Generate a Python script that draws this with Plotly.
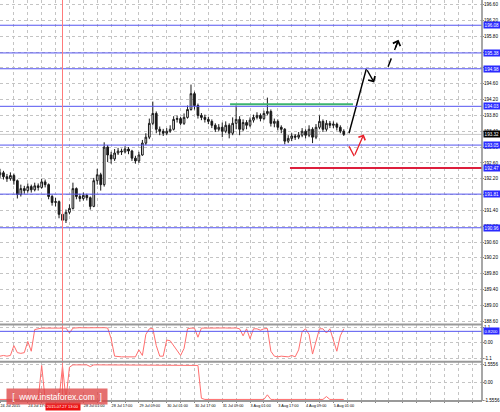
import plotly.graph_objects as go

# ---------------- data (2-hour bars, x = trading-hour index from 24 Jul 01:00) ----------------
bar_index = [0, 2, 4, 6, 8, 10, 12, 14, 16, 18, 20, 22, 24, 26, 28, 30, 32, 34, 36, 38,
             40, 42, 44, 46, 48, 50, 52, 54, 56, 58, 60, 62, 64, 66, 68, 70, 72, 74, 76, 78,
             80, 82, 84, 86, 88, 90, 92, 94, 96, 98, 100, 102, 104, 106, 108, 110, 112, 114, 116, 118,
             120, 122, 124, 126, 128, 130, 132, 134, 136, 138, 140, 142, 144, 146, 148, 150, 152, 154, 156, 158,
             160, 162, 164, 166, 168, 170, 172, 174, 176, 178, 180, 182, 184, 186, 188, 190, 192, 194, 196, 198]

opens = [192.30, 192.35, 192.25, 192.20, 192.28, 192.15, 191.80, 191.95, 191.90, 192.00,
         191.92, 192.02, 191.98, 192.12, 192.05, 191.75, 191.60, 191.62, 191.30, 191.15,
         191.35, 191.45, 191.95, 191.75, 191.70, 191.78, 191.72, 191.50, 192.15, 192.30,
         192.05, 193.00, 192.80, 192.70, 192.85, 192.90, 192.88, 192.95, 192.90, 192.72,
         192.65, 192.80, 193.10, 193.25, 193.60, 193.85, 193.45, 193.40, 193.35, 193.40,
         193.45, 193.70, 193.72, 193.60, 193.75, 193.95, 194.35, 194.05, 193.80, 193.75,
         193.70, 193.65, 193.55, 193.45, 193.50, 193.40, 193.55, 193.35, 193.60, 193.70,
         193.45, 193.62, 193.55, 193.68, 193.75, 193.80, 193.72, 193.85, 193.90, 193.60,
         193.65, 193.50, 193.45, 193.15, 193.22, 193.28, 193.25, 193.30, 193.40, 193.30,
         193.45, 193.25, 193.50, 193.65, 193.45, 193.60, 193.55, 193.58, 193.50, 193.40]

highs = [192.45, 192.40, 192.32, 192.36, 192.33, 192.18, 192.05, 192.02, 192.08, 192.05,
         192.10, 192.08, 192.20, 192.18, 192.08, 191.80, 191.72, 191.65, 191.38, 191.42,
         191.55, 192.10, 191.98, 191.82, 191.85, 191.82, 191.75, 192.22, 192.45, 192.35,
         193.12, 193.05, 192.88, 192.95, 192.98, 192.96, 193.02, 193.00, 192.93, 192.78,
         192.88, 193.18, 193.35, 193.72, 194.15, 193.90, 193.52, 193.46, 193.48, 193.55,
         193.78, 193.80, 193.76, 193.85, 194.05, 194.58, 194.40, 194.10, 193.86, 193.82,
         193.76, 193.70, 193.60, 193.58, 193.62, 193.65, 193.60, 193.75, 194.05, 193.78,
         193.70, 193.68, 193.75, 193.82, 193.88, 193.85, 193.92, 194.25, 193.95, 193.72,
         193.70, 193.55, 193.48, 193.30, 193.35, 193.33, 193.38, 193.48, 193.45, 193.55,
         193.50, 193.58, 193.80, 193.70, 193.68, 193.66, 193.65, 193.62, 193.55, 193.45]

lows = [192.22, 192.18, 192.12, 192.15, 192.05, 191.70, 191.75, 191.82, 191.85, 191.85,
        191.88, 191.90, 191.95, 191.98, 191.68, 191.52, 191.50, 191.20, 191.00, 191.08,
        191.30, 191.42, 191.68, 191.62, 191.65, 191.65, 191.42, 191.48, 192.05, 191.90,
        192.00, 192.62, 192.58, 192.65, 192.80, 192.80, 192.84, 192.82, 192.65, 192.58,
        192.60, 192.78, 193.05, 193.20, 193.55, 193.35, 193.30, 193.28, 193.30, 193.36,
        193.42, 193.62, 193.55, 193.56, 193.72, 193.92, 193.95, 193.72, 193.68, 193.62,
        193.58, 193.48, 193.38, 193.40, 193.25, 193.35, 193.22, 193.30, 193.45, 193.30,
        193.40, 193.45, 193.50, 193.62, 193.70, 193.65, 193.68, 193.80, 193.52, 193.50,
        193.42, 193.35, 193.07, 193.10, 193.15, 193.18, 193.20, 193.25, 193.22, 193.25,
        193.10, 193.20, 193.45, 193.38, 193.40, 193.48, 193.48, 193.42, 193.35, 193.28]

closes = [192.35, 192.25, 192.20, 192.28, 192.15, 191.80, 191.95, 191.90, 192.00, 191.92,
          192.02, 191.98, 192.12, 192.05, 191.75, 191.60, 191.62, 191.30, 191.15, 191.35,
          191.45, 191.95, 191.75, 191.70, 191.78, 191.72, 191.50, 192.15, 192.30, 192.05,
          193.00, 192.80, 192.70, 192.85, 192.90, 192.88, 192.95, 192.90, 192.72, 192.65,
          192.80, 193.10, 193.25, 193.60, 193.85, 193.45, 193.40, 193.35, 193.40, 193.45,
          193.70, 193.72, 193.60, 193.75, 193.95, 194.35, 194.05, 193.80, 193.75, 193.70,
          193.65, 193.55, 193.45, 193.50, 193.40, 193.55, 193.35, 193.60, 193.70, 193.45,
          193.62, 193.55, 193.68, 193.75, 193.80, 193.72, 193.85, 193.90, 193.60, 193.65,
          193.50, 193.45, 193.15, 193.22, 193.28, 193.25, 193.30, 193.40, 193.30, 193.45,
          193.25, 193.50, 193.65, 193.45, 193.60, 193.55, 193.58, 193.50, 193.40, 193.32]

osc1 = [-0.95, -0.9, -0.95, -0.9, -0.2, -0.7, -0.75, -0.7, 0.1, -0.6,
        0.95, 1.02, 1.05, 1.05, 1.04, 1.05, 1.05, 1.04, 1.05, 1.05,
        0.7, 1.05, 1.08, 1.08, 1.07, 1.08, 1.08, 1.07, 1.08, 1.08,
        1.08, 1.06, 0.3, -0.95, -1.0, -1.0, -1.0, -0.98, -1.0, -1.0,
        -0.5, -0.9, 0.6, 1.0, 1.02, -0.2, -0.95, -0.95, 0.2, 0.15,
        -0.2, -0.6, -0.9, -0.4, 1.0, 1.05, 1.05, 0.4, 1.05, 1.05,
        1.06, 1.05, 1.06, 1.05, 1.05, 1.06, 1.05, 1.05, 1.06, 1.0,
        0.5, 1.0, 0.3, 1.0, 1.0, 0.9, 1.0, 1.02, -0.6, -0.95,
        -1.0, -0.95, -1.0, -1.0, -0.9, -1.0, -0.5, 0.8, 1.0, 0.6,
        -0.8, 0.2, 1.0, 1.0, 0.7, 1.0, 0.2, -0.6, 0.5, 1.0]

osc2 = [-1.5, -1.5, -1.5, -1.5, -1.5, -1.5, -1.5, -1.5, -1.5, -1.5,
        -1.5, -1.5, 1.45, -1.5, -1.5, -1.5, -1.5, -1.5, 1.4, -1.5,
        1.3, 1.5, 1.5, 1.5, 1.5, 1.5, 1.35, 1.5, 1.5, 1.5,
        1.5, 1.5, 1.5, 1.5, 1.5, 1.5, 1.5, 1.5, 1.5, 1.5,
        1.5, 1.5, 1.5, 1.5, 1.5, 1.5, 1.5, 1.5, 1.5, 1.5,
        1.5, 1.5, 1.5, 1.5, 1.5, 1.5, 1.5, 1.45, -1.4, -1.5,
        -1.5, -1.5, -1.5, -1.5, -1.5, -1.5, -1.5, -1.5, -1.5, -1.5,
        -1.5, -1.5, -1.5, -1.5, -1.5, -1.5, -1.5, -1.1, -1.5, -1.5,
        -1.5, -1.5, -1.5, -1.5, -1.5, -1.5, -1.5, -1.5, -1.5, -1.5,
        -1.5, -1.5, -1.5, -1.5, -1.25, -1.5, -1.5, -1.5, -1.5, -1.5]

tick_bars = [0, 8, 16, 24, 32, 40, 48, 56, 64, 72, 80, 88, 96, 104, 112, 120, 128, 136,
             144, 152, 160, 168, 176, 184, 192, 200, 208, 216, 224, 232, 240, 248, 256, 264, 272]
# the 27 Jul 09:00 label sits under the red cursor-time box in the original, so it is left blank
tick_labels = ["24 Jul 2015", "", "24 Jul 17:00", "", "", "", "28 Jul 01:00", "",
               "28 Jul 17:00", "", "29 Jul 09:00", "", "30 Jul 01:00", "", "30 Jul 17:00", "",
               "31 Jul 09:00", "", "3 Aug 01:00", "", "3 Aug 17:00", "", "4 Aug 09:00", "",
               "5 Aug 01:00", "", "", "", "", "", "", "", "", "", ""]

level_prices = [196.08, 195.38, 194.98, 194.03, 193.05, 191.81, 190.96]
support_price = 192.47
support_start_bar = 167
resistance_price = 194.08
resistance_bars = [132.5, 203.3]
marker_bar = 36
marker_label = "2015.07.27 13:00"
osc1_level = 0.82

up_path_bars = [201, 211, 215.5]
up_path_prices = [193.35, 194.98, 194.63]
dash_path_bars = [223.5, 229.5]
dash_path_prices = [195.03, 195.71]
red_path_bars = [201, 204, 209.5]
red_path_prices = [193.02, 192.77, 193.32]

# ---------------- figure ----------------
X_END = 0.964
D_MAIN = [0.2087, 1.0]
D_P1 = [0.1189, 0.2063]
D_P2 = [0.0218, 0.1165]
GRID = "#c4c4c4"
FONT = "Liberation Sans"
BLUE = "#5555f0"
PINK = "#ff6e6e"

fig = go.Figure()

fig.add_trace(go.Candlestick(
    x=bar_index, open=opens, high=highs, low=lows, close=closes,
    increasing=dict(line=dict(color="#1a1a1a", width=1), fillcolor="#ffffff"),
    decreasing=dict(line=dict(color="#1a1a1a", width=1), fillcolor="#1a1a1a"),
    whiskerwidth=0, xaxis="x", yaxis="y", hoverinfo="skip"))

fig.add_trace(go.Scatter(x=bar_index, y=osc1, mode="lines",
                         line=dict(color=PINK, width=1), xaxis="x", yaxis="y2", hoverinfo="skip"))
fig.add_trace(go.Scatter(x=bar_index, y=osc2, mode="lines",
                         line=dict(color=PINK, width=1), xaxis="x", yaxis="y3", hoverinfo="skip"))

fig.add_trace(go.Scatter(x=up_path_bars[:2], y=up_path_prices[:2], mode="lines",
                         line=dict(color="black", width=1.4), hoverinfo="skip"))
fig.add_trace(go.Scatter(x=dash_path_bars, y=dash_path_prices, mode="lines",
                         line=dict(color="black", width=1.4, dash="dash"), hoverinfo="skip"))
fig.add_trace(go.Scatter(x=red_path_bars[:2], y=red_path_prices[:2], mode="lines",
                         line=dict(color="#e8202a", width=1.3), hoverinfo="skip"))

shapes = []
shapes.append(dict(type="line", xref="paper", yref="y", x0=0, x1=X_END,
                   y0=closes[-1], y1=closes[-1], line=dict(color="#c8c8c8", width=1), layer="below"))
for p in level_prices:
    shapes.append(dict(type="line", xref="paper", yref="y", x0=0, x1=X_END, y0=p, y1=p,
                       line=dict(color=BLUE, width=1)))
shapes.append(dict(type="line", xref="x", yref="y", x0=support_start_bar, x1=278,
                   y0=support_price, y1=support_price, line=dict(color="#dc1e3c", width=2)))
shapes.append(dict(type="line", xref="x", yref="y", x0=resistance_bars[0], x1=resistance_bars[1],
                   y0=resistance_price, y1=resistance_price, line=dict(color="#3cb46e", width=2)))
shapes.append(dict(type="line", xref="paper", yref="y2", x0=0, x1=X_END, y0=osc1_level, y1=osc1_level,
                   line=dict(color=BLUE, width=1)))
shapes.append(dict(type="line", xref="x", yref="paper", x0=marker_bar, x1=marker_bar,
                   y0=D_P2[0], y1=1, line=dict(color="#ff7a7a", width=1)))
for yy in [0.2087, 0.1177, 0.0218]:
    shapes.append(dict(type="line", xref="paper", yref="paper", x0=0, x1=X_END, y0=yy, y1=yy,
                       line=dict(color="#999999", width=2)))
shapes.append(dict(type="line", xref="paper", yref="paper", x0=X_END, x1=X_END, y0=D_P2[0], y1=1,
                   line=dict(color="#8a8a8a", width=1.5)))

annotations = []
lab_font = dict(size=4.6, color="white", family=FONT)
for p in level_prices + [support_price]:
    annotations.append(dict(xref="paper", yref="y", x=X_END + 0.002, y=p, xanchor="left",
                            text=f"{p:.2f}", showarrow=False, bgcolor="#2a2aff",
                            font=lab_font, borderpad=0.6))
annotations.append(dict(xref="paper", yref="y", x=X_END + 0.002, y=closes[-1], xanchor="left",
                        text=f"{closes[-1]:.2f}", showarrow=False, bgcolor="#000000",
                        font=lab_font, borderpad=0.6))
annotations.append(dict(xref="paper", yref="y2", x=X_END + 0.002, y=osc1_level, xanchor="left",
                        text=f"{osc1_level:.4f}", showarrow=False, bgcolor="#2a2aff",
                        font=dict(size=4.2, color="white", family=FONT), borderpad=0.6))
annotations.append(dict(xref="x", yref="paper", x=marker_bar, y=0.0095, xanchor="center",
                        yanchor="middle", text=marker_label, showarrow=False, bgcolor="#ee1111",
                        font=dict(size=4, color="white", family=FONT), borderpad=0.8))
annotations.append(dict(xref="x", yref="y", axref="x", ayref="y",
                        x=up_path_bars[2], y=up_path_prices[2], ax=up_path_bars[1], ay=up_path_prices[1],
                        text="", showarrow=True, arrowhead=4, arrowsize=1.1, arrowwidth=1.4,
                        arrowcolor="black"))
annotations.append(dict(xref="x", yref="y", axref="x", ayref="y",
                        x=dash_path_bars[1], y=dash_path_prices[1], ax=227.5, ay=195.48,
                        text="", showarrow=True, arrowhead=4, arrowsize=1.1, arrowwidth=1.4,
                        arrowcolor="black"))
annotations.append(dict(xref="x", yref="y", axref="x", ayref="y",
                        x=red_path_bars[2], y=red_path_prices[2], ax=red_path_bars[1], ay=red_path_prices[1],
                        text="", showarrow=True, arrowhead=4, arrowsize=1.1, arrowwidth=1.3,
                        arrowcolor="#e8202a"))
annotations.append(dict(xref="paper", yref="paper", x=0.114, y=0.034, xanchor="center", yanchor="middle",
                        text="[  www.instaforex.com  ]", showarrow=False,
                        bgcolor="rgba(222,70,70,0.78)", width=98, height=13,
                        font=dict(size=8.5, color="white", family="Liberation Sans")))

tickfont = dict(size=4.6, color="black", family=FONT)
common_y = dict(side="right", anchor="x", showgrid=True, gridcolor=GRID, griddash="dot", gridwidth=1,
                zeroline=False, showline=False, ticks="outside", ticklen=1, tickcolor="#888888",
                ticklabelstandoff=-1, tickfont=tickfont, fixedrange=True)

fig.update_layout(
    width=500, height=412, margin=dict(l=0, r=0, t=0, b=0),
    paper_bgcolor="white", plot_bgcolor="white", showlegend=False, hovermode=False,
    xaxis=dict(domain=[0, X_END], anchor="y3", range=[0, 277.6], tickmode="array",
               tickvals=tick_bars, ticktext=tick_labels, ticklabelposition="outside right",
               tickangle=0, tickfont=dict(size=3.8, color="black", family=FONT), ticks="outside",
               ticklen=1, tickcolor="#888888", showgrid=True, gridcolor=GRID, griddash="dot", gridwidth=1,
               zeroline=False, showline=False, rangeslider=dict(visible=False), fixedrange=True),
    yaxis=dict(domain=D_MAIN, range=[188.516, 196.718], tick0=188.6, dtick=0.4, tickformat=".2f",
               **common_y),
    yaxis2=dict(domain=D_P1, range=[-1.313, 1.242], tickmode="array", tickvals=[-1.1, 0, 1.1],
                ticktext=["-1.1", "0.00", "1.1"], **common_y),
    yaxis3=dict(domain=D_P2, range=[-1.642, 1.728], tickmode="array", tickvals=[-1.5556, 0, 1.5556],
                ticktext=["-1.5556", "0.00", "1.5556"], **common_y),
    shapes=shapes, annotations=annotations,
)

fig.write_html("out.html", config={"displayModeBar": False},
               post_script="document.body.style.margin='0px';document.body.style.overflow='hidden';")
